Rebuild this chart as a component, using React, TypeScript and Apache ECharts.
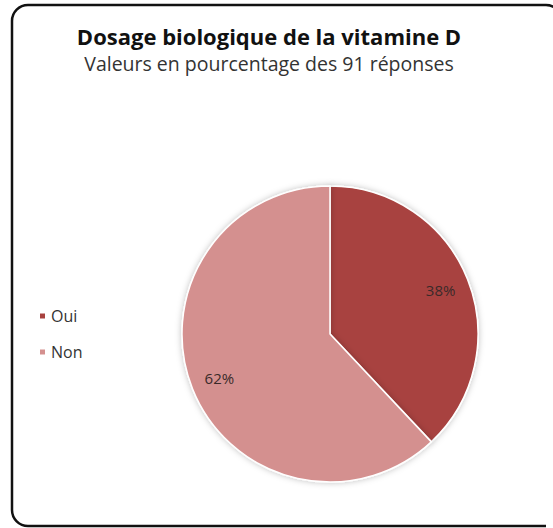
import React, { useEffect, useRef } from "react";
import * as echarts from "echarts";

const categories = ["Oui", "Non"];
const values = [38, 62];
const colors = ["#A8423F", "#D4908F"];
const titleText = "Dosage biologique de la vitamine D";
const subtitleText = "Valeurs en pourcentage des 91 réponses";

export default function App() {
  const ref = useRef<HTMLDivElement>(null);
  useEffect(() => {
    if (!ref.current) return;
    const chart = echarts.init(ref.current, null, { renderer: "svg" });
    const data = categories.map((name, i) => ({
      name,
      value: values[i],
      itemStyle: { color: colors[i] },
    }));
    const border = { stroke: "#111111", lineWidth: 2.5, fill: "none" };
    chart.setOption({
      animation: false,
      backgroundColor: "#ffffff",
      graphic: [
        { type: "line", silent: true, shape: { x1: 28, y1: 5, x2: 546, y2: 5 }, style: border },
        { type: "line", silent: true, shape: { x1: 12, y1: 21, x2: 12, y2: 510 }, style: border },
        { type: "line", silent: true, shape: { x1: 28, y1: 526, x2: 546, y2: 526 }, style: border },
        { type: "arc", silent: true, shape: { cx: 28, cy: 21, r: 16, startAngle: Math.PI, endAngle: Math.PI * 1.5 }, style: border },
        { type: "arc", silent: true, shape: { cx: 28, cy: 510, r: 16, startAngle: Math.PI * 0.5, endAngle: Math.PI }, style: border },
        { type: "arc", silent: true, shape: { cx: 546, cy: 21, r: 16, startAngle: Math.PI * 1.5, endAngle: Math.PI * 1.75 }, style: border },
      ],
      title: {
        text: titleText,
        subtext: subtitleText,
        left: 264,
        top: 20,
        textAlign: "center",
        itemGap: 6,
        textStyle: {
          fontFamily: "Open Sans",
          fontWeight: "bold",
          fontSize: 22,
          color: "#111111",
        },
        subtextStyle: {
          fontFamily: "Open Sans",
          fontSize: 19.5,
          color: "#333333",
        },
      },
      legend: {
        orient: "vertical",
        left: 33,
        top: 303,
        icon: "rect",
        itemWidth: 7,
        itemHeight: 7,
        itemGap: 20,
        data: categories,
        textStyle: { fontFamily: "Open Sans", fontSize: 16, color: "#333333" },
        selectedMode: false,
      },
      series: [
        {
          type: "pie",
          center: [330, 334],
          radius: [0, 148],
          startAngle: 90,
          clockwise: true,
          data,
          label: { show: false },
          labelLine: { show: false },
          itemStyle: {
            borderColor: "#ffffff",
            borderWidth: 1.5,
            shadowBlur: 6,
            shadowColor: "rgba(0,0,0,0.25)",
          },
          emphasis: { disabled: true },
        },
        {
          type: "pie",
          center: [330, 334],
          radius: [84, 148],
          startAngle: 90,
          clockwise: true,
          silent: true,
          data: categories.map((name, i) => ({ name, value: values[i] })),
          itemStyle: { color: "rgba(0,0,0,0)" },
          label: {
            show: true,
            position: "inside",
            formatter: (p: any) => p.value + "%",
            fontFamily: "Open Sans",
            fontSize: 15,
            color: "#3a2a2a",
          },
          labelLine: { show: false },
          emphasis: { disabled: true },
        },
      ],
    });
    return () => chart.dispose();
  }, []);
  return (
    <div
      ref={ref}
      style={{ position: "absolute", left: 0, top: 0, width: 553, height: 528 }}
    />
  );
}
